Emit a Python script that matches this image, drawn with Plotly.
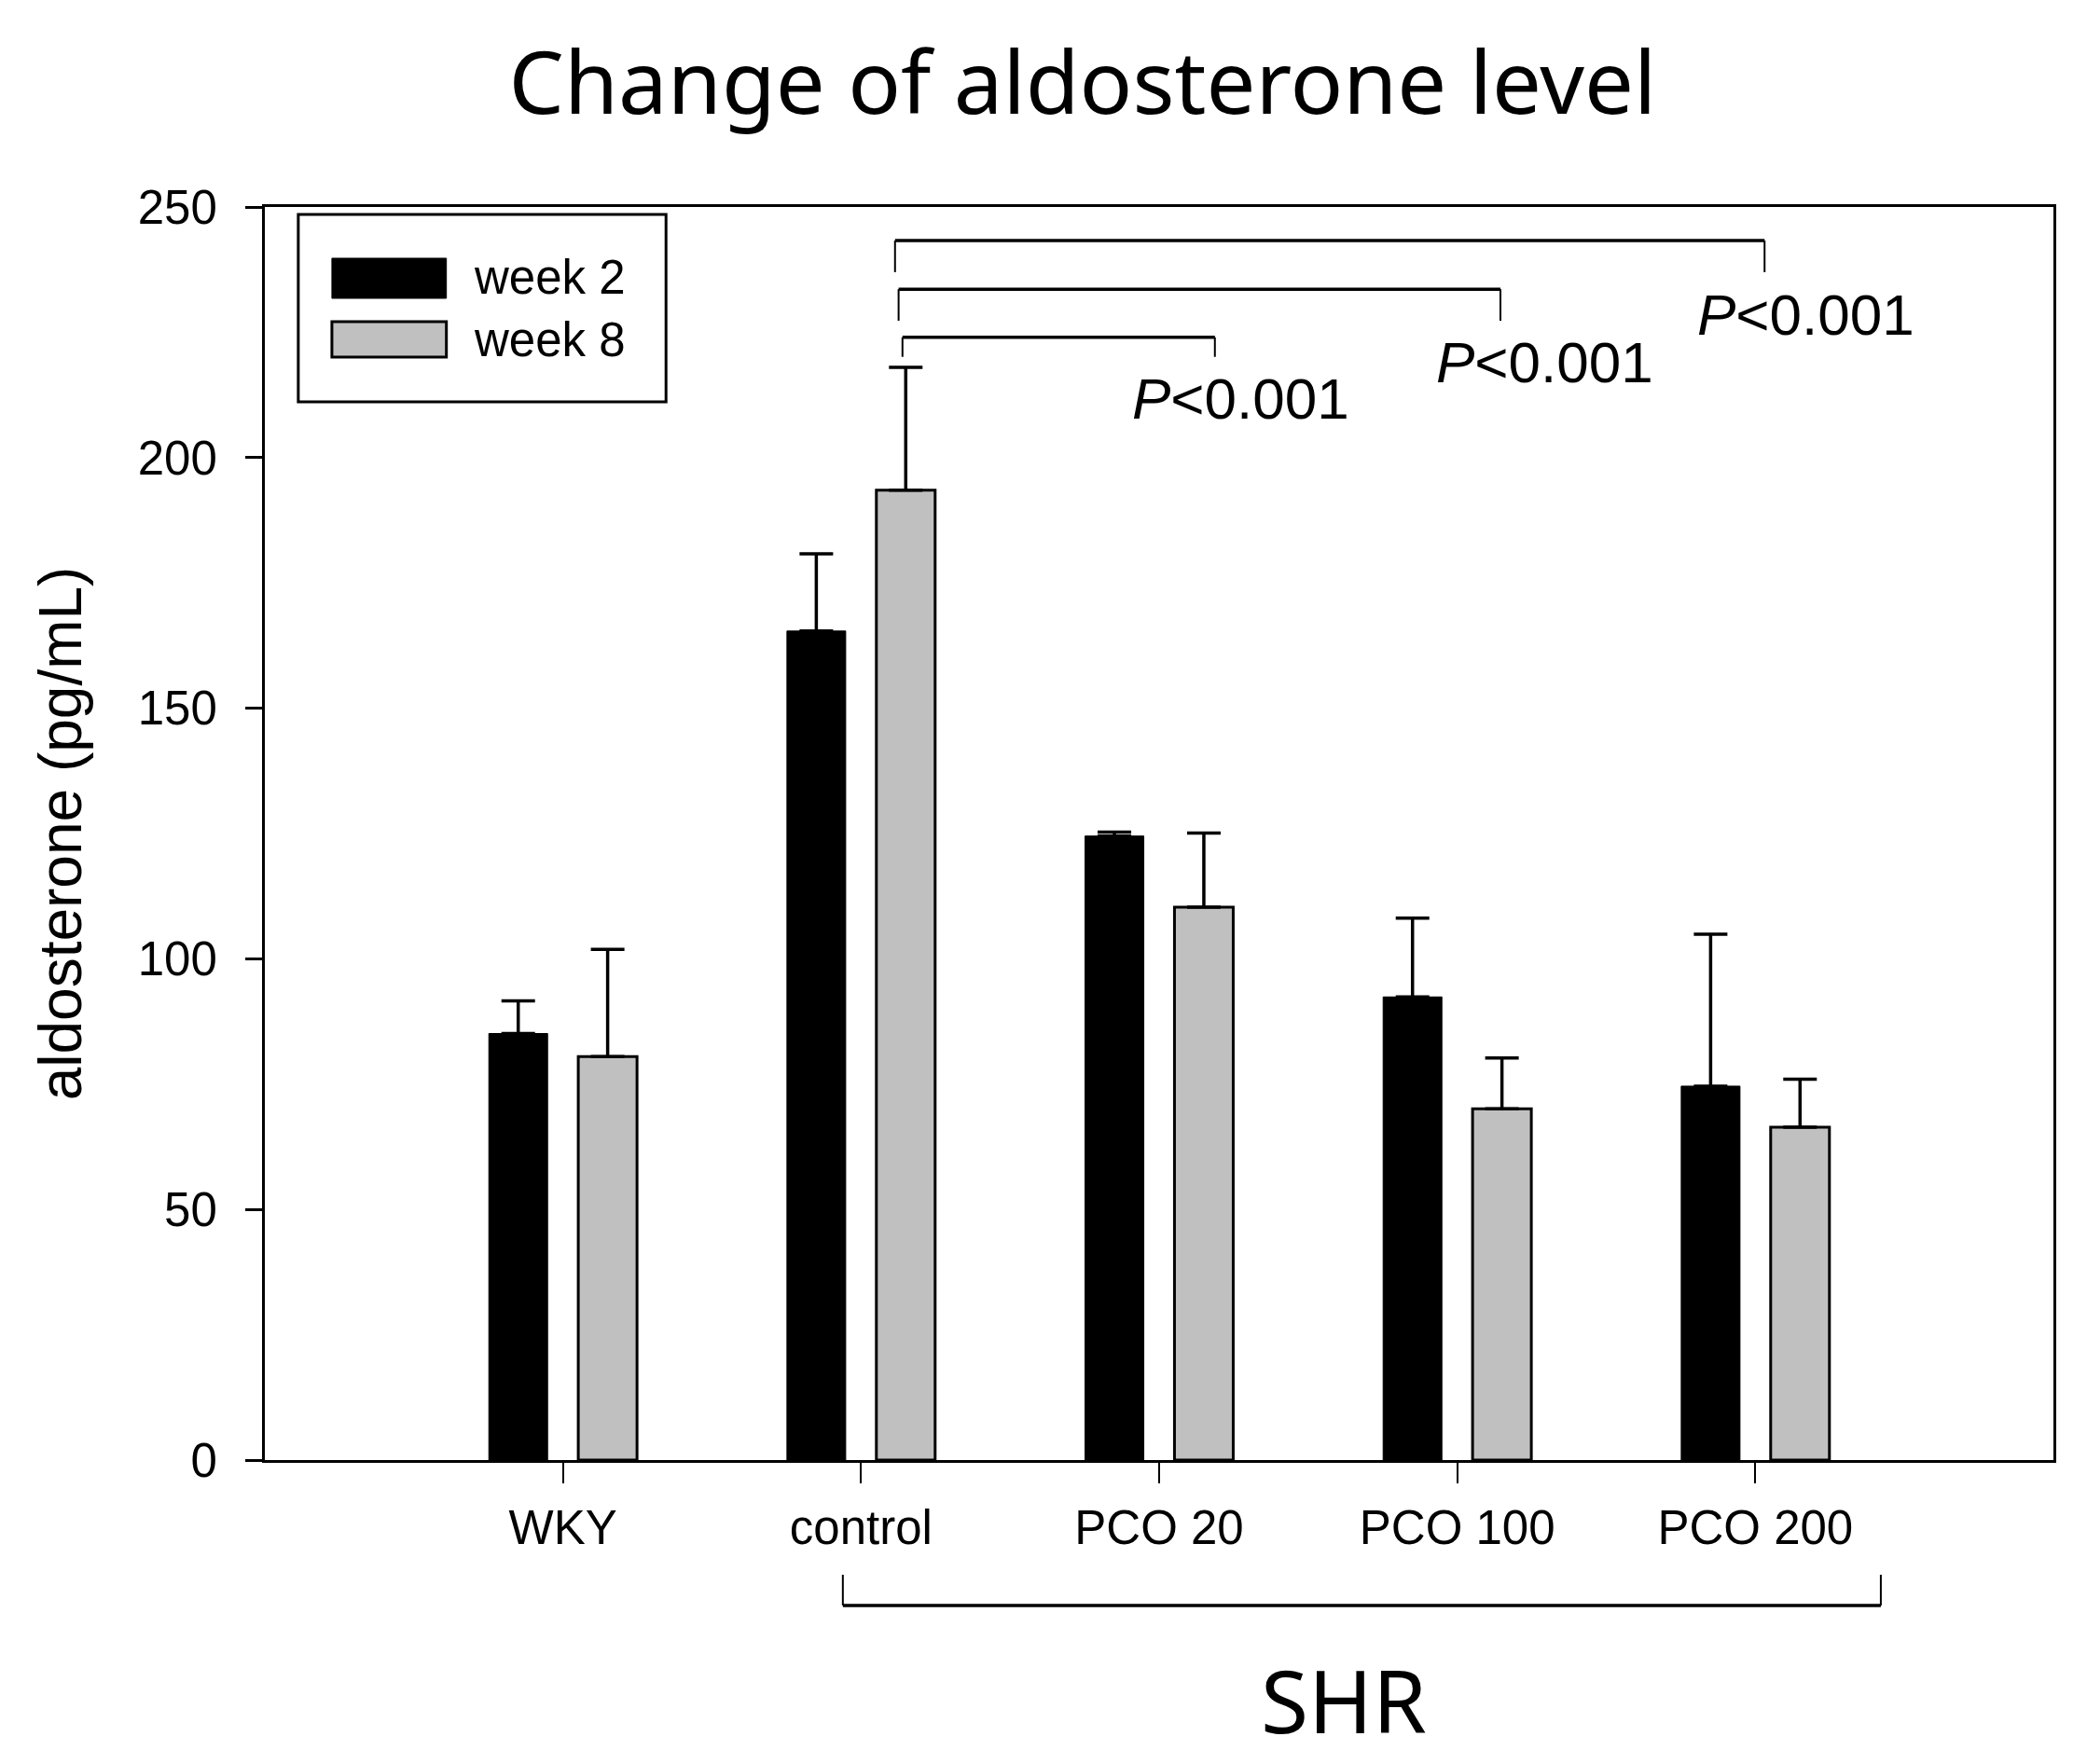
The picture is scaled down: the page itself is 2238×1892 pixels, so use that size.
import plotly.graph_objects as go

groups = ["WKY", "control", "PCO 20", "PCO 100", "PCO 200"]
series = ["week 2", "week 8"]
week2 = [85.1, 165.4, 124.5, 92.4, 74.6]
week2_err = [6.5, 15.4, 0.8, 15.7, 30.3]
week8 = [80.5, 193.5, 110.3, 70.1, 66.4]
week8_err = [21.4, 24.5, 14.8, 10.1, 9.6]
y_ticks = [0, 50, 100, 150, 200, 250]
p_label = "<i>P</i><0.001"

# comparison brackets: left x, right x, top y, leg end y, label x, label y
brackets = [
    (1.139, 2.187, 224.0, 220.1, 2.275, 211.7),
    (1.126, 3.145, 233.6, 227.3, 3.295, 219.1),
    (1.114, 4.031, 243.3, 237.0, 4.168, 228.6),
]

FONT = "Liberation Sans, Arial, sans-serif"
TITLE_FONT = "Noto Sans, sans-serif"
GRAY = "#c0c0c0"

fig = go.Figure()

fig.add_trace(go.Bar(
    x=groups, y=week2, name=series[0],
    marker=dict(color="black", line=dict(color="black", width=1)),
    error_y=dict(type="data", array=week2_err, arrayminus=[0] * len(week2),
                 symmetric=False, color="black", thickness=3.5, width=18),
    showlegend=False,
))
fig.add_trace(go.Bar(
    x=groups, y=week8, name=series[1],
    marker=dict(color=GRAY, line=dict(color="black", width=3)),
    error_y=dict(type="data", array=week8_err, arrayminus=[0] * len(week8),
                 symmetric=False, color="black", thickness=3.5, width=18),
    showlegend=False,
))

shapes = []
annotations = []

for x0, x1, yt, yb, tx, ty in brackets:
    shapes.append(dict(type="line", xref="x", yref="y", x0=x0, x1=x1, y0=yt, y1=yt,
                       line=dict(color="black", width=3.5)))
    for xx in (x0, x1):
        shapes.append(dict(type="line", xref="x", yref="y", x0=xx, x1=xx, y0=yt, y1=yb,
                           line=dict(color="black", width=2)))
    annotations.append(dict(x=tx, y=ty, xref="x", yref="y", text=p_label, showarrow=False,
                            xanchor="center", yanchor="middle",
                            font=dict(family=FONT, size=62, color="black")))

# SHR bracket under the axis
shapes.append(dict(type="line", xref="x", yref="paper", x0=0.939, x1=4.421, y0=-0.116, y1=-0.116,
                   line=dict(color="black", width=3.5)))
for xx in (0.939, 4.421):
    shapes.append(dict(type="line", xref="x", yref="paper", x0=xx, x1=xx, y0=-0.116, y1=-0.0915,
                       line=dict(color="black", width=2)))
annotations.append(dict(x=2.618, y=-0.191, xref="x", yref="paper", text="SHR", showarrow=False,
                        xanchor="center", yanchor="middle",
                        font=dict(family=TITLE_FONT, size=93, color="black")))

# legend drawn by hand to get the wide swatches
shapes.append(dict(type="rect", xref="paper", yref="paper", x0=0.0187, x1=0.2243, y0=0.8445, y1=0.994,
                   line=dict(color="black", width=3), fillcolor="white"))
shapes.append(dict(type="rect", xref="paper", yref="paper", x0=0.0375, x1=0.1015, y0=0.9271, y1=0.9591,
                   line=dict(color="black", width=1), fillcolor="black"))
shapes.append(dict(type="rect", xref="paper", yref="paper", x0=0.0375, x1=0.1015, y0=0.8802, y1=0.9085,
                   line=dict(color="black", width=3), fillcolor=GRAY))
for name, yy in zip(series, [0.9435, 0.8943]):
    annotations.append(dict(x=0.1155, y=yy, xref="paper", yref="paper", text=name, showarrow=False,
                            xanchor="left", yanchor="middle",
                            font=dict(family=FONT, size=51, color="black")))

annotations.append(dict(x=-0.114, y=0.5, xref="paper", yref="paper", text="aldosterone (pg/mL)",
                        textangle=-90, showarrow=False, xanchor="center", yanchor="middle",
                        font=dict(family=FONT, size=64, color="black")))

# page body keeps the browser's margin, so the figure is a little smaller
fig.update_layout(
    width=2230, height=1884,
    paper_bgcolor="white", plot_bgcolor="white",
    margin=dict(l=276, r=36, t=214, b=326),
    barmode="group", bargap=0.4, bargroupgap=0.343,
    title=dict(text="Change of aldosterone level", x=0.517, y=0.957, xanchor="center", yanchor="middle",
               font=dict(family=TITLE_FONT, size=94, color="black")),
    shapes=shapes, annotations=annotations,
    font=dict(family=FONT, color="black"),
)

fig.update_xaxes(
    range=[-1, 5], showline=True, linecolor="black", linewidth=3, mirror=True,
    ticks="outside", ticklen=22, tickwidth=2, tickcolor="black",
    tickfont=dict(family=FONT, size=51, color="black"), ticklabelstandoff=4,
    showgrid=False, zeroline=False,
)
fig.update_yaxes(
    range=[0, 250], tickvals=y_ticks, showline=True, linecolor="black", linewidth=3, mirror=True,
    ticks="outside", ticklen=18, tickwidth=3, tickcolor="black",
    tickfont=dict(family=FONT, size=51, color="black"), ticklabelstandoff=20,
    showgrid=False, zeroline=False,
)

fig.write_html("out.html")
